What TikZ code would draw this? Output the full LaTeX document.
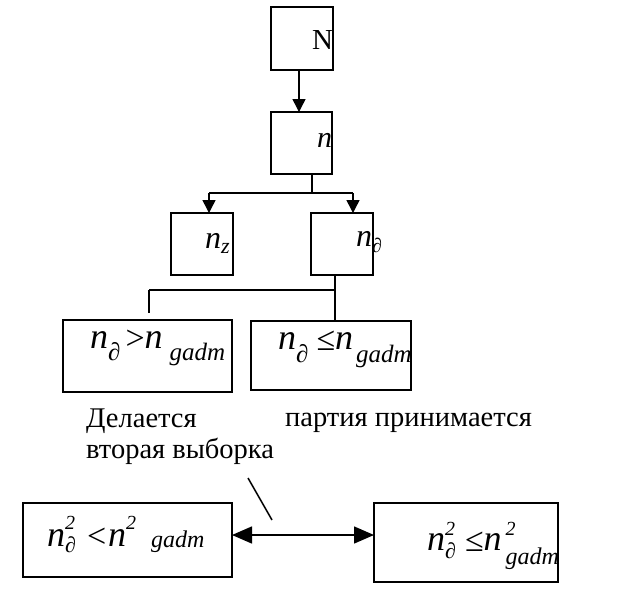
\documentclass[tikz,border=0pt]{standalone}
\usepackage{fontspec}
\setmainfont{Liberation Serif}
\usetikzlibrary{arrows.meta}
% \sbx{raise}{size}{text}
\newcommand\sbx[3]{\raisebox{#1pt}{\fontsize{#2}{#2}\selectfont #3}}
\newcommand\rel[1]{\raisebox{-1pt}{\upshape\fontsize{34}{34}\selectfont #1}}
\begin{document}
\begin{tikzpicture}[x=1pt,y=-1pt,
  box/.style={draw,line width=1.5pt,inner sep=0pt,outer sep=0pt},
  lbl/.style={inner sep=0pt,anchor=base west,font=\fontsize{36}{36}\selectfont\itshape},
  conn/.style={line width=1.5pt},
  arr/.style={line width=1.5pt,-{Triangle[length=13pt,width=13pt]}},
  darr/.style={line width=1.5pt,{Triangle[length=20pt,width=17pt]}-{Triangle[length=20pt,width=17pt]}},
  txt/.style={inner sep=0pt,anchor=base west,font=\fontsize{28.5}{31}\selectfont,align=left}]
\useasboundingbox (0,0) rectangle (632,600);
% boxes
\node[box,minimum width=62pt,minimum height=63pt] (N) at (302,38.5) {};
\node[box,minimum width=61pt,minimum height=62pt] (n) at (301.5,143) {};
\node[box,minimum width=62pt,minimum height=62pt] (nz) at (202,244) {};
\node[box,minimum width=62pt,minimum height=62pt] (nd) at (342,244) {};
\node[box,minimum width=169pt,minimum height=72pt] (b1) at (147.5,356) {};
\node[box,minimum width=160pt,minimum height=69pt] (b2) at (331,355.5) {};
\node[box,minimum width=209pt,minimum height=74pt] (b3) at (127.5,540) {};
\node[box,minimum width=184pt,minimum height=79pt] (b4) at (466,542.5) {};
% labels in boxes
\node[lbl,font=\fontsize{29}{29}\selectfont] (tN) at (312,49) {N};
\node[lbl,font=\fontsize{30}{30}\selectfont\itshape] (tn) at (317,147) {n};
\node[lbl,font=\fontsize{32}{32}\selectfont\itshape] (tnz) at (205,248) {n\sbx{-5}{22}{z}};
\node[lbl,font=\fontsize{32}{32}\selectfont\itshape] (tnd) at (356,246) {n\sbx{-6}{20}{∂}};
\node[lbl] (t1) at (90,348) {n\sbx{-12}{25}{∂}\kern5pt\rel{>}\kern0pt n\kern7pt\sbx{-12}{25}{gadm}};
\node[lbl] (t2) at (278,349) {n\sbx{-13}{25}{∂}\kern8pt\rel{≤}\kern0pt n\kern3pt\sbx{-13}{25}{gadm}};
\node[lbl] (t3) at (47,546) {n\makebox[0pt][l]{\sbx{17}{20}{2}}\sbx{-6}{22}{∂}\kern11pt\rel{<}\kern2pt n\sbx{17}{20}{2}\kern15pt\sbx{-1}{24}{gadm}};
\node[lbl] (t4) at (427,550) {n\makebox[0pt][l]{\sbx{15}{20}{2}}\sbx{-8}{22}{∂}\kern9pt\rel{≤}\kern0pt n\kern4pt\makebox[0pt][l]{\sbx{15}{20}{2}}\sbx{-14}{24}{gadm}};
% texts
\node[txt] (s1) at (86,458) {Делается\\вторая выборка};
\node[txt] (s2) at (285,426) {партия принимается};
% connectors
\draw[arr] (N.south -| 299,0) -- (n.north -| 299,0);
\coordinate (j1) at (312,193);
\coordinate (a1) at (209,193);
\coordinate (a2) at (353,193);
\draw[conn] (n.south -| j1) -- (j1);
\draw[conn] (a1) -- (a2);
\draw[arr] (a1) -- (a1 |- nz.north);
\draw[arr] (a2) -- (a2 |- nd.north);
\coordinate (k1) at (149,290);
\coordinate (k2) at (335,290);
\draw[conn] (nd.south -| k2) -- (k2 |- b2.north);
\draw[conn] (k2) -- (k1);
\draw[conn,shorten >=7pt] (k1) -- (k1 |- b1.north);
\coordinate (m) at (0,535);
\draw[darr] (b3.east |- m) -- (b4.west |- m);
\coordinate (s3) at (248,478);
\coordinate (s4) at (272,520);
\draw[conn] (s3) -- (s4);
\end{tikzpicture}
\end{document}
